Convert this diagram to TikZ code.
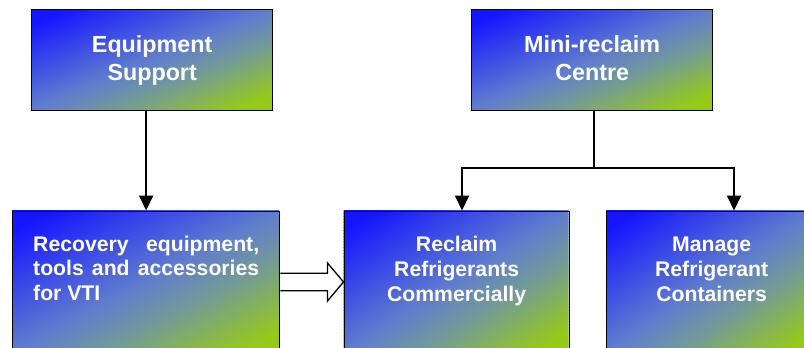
\documentclass[tikz,border=0pt]{standalone}
\usepackage{fontspec}
\setmainfont{Liberation Sans}
\usetikzlibrary{arrows.meta,calc}
\definecolor{gblue}{RGB}{20,22,255}
\definecolor{gmidA}{RGB}{95,125,205}
\definecolor{gmidB}{RGB}{115,155,150}
\definecolor{ggreen}{RGB}{150,202,25}
% diagonal gradient (top-left blue -> bottom-right green) drawn as thin strips
\newcommand\gradrect[4]{%
  \begin{scope}
  \clip (#1,#2) rectangle ++(#3,#4);
  \foreach \i in {0,...,99}{%
    \pgfmathsetmacro\grA{\i/50}%
    \pgfmathsetmacro\grB{\grA+0.026}%
    \pgfmathsetmacro\grS{\grA+0.01}%
    \ifdim\grS pt<0.15pt
      \colorlet{grcc}{gblue}%
    \else\ifdim\grS pt<1pt
      \pgfmathsetmacro\grP{(\grS-0.15)/0.85*100}\colorlet{grcc}{gmidA!\grP!gblue}%
    \else\ifdim\grS pt<1.34pt
      \pgfmathsetmacro\grP{(\grS-1)/0.34*100}\colorlet{grcc}{gmidB!\grP!gmidA}%
    \else\ifdim\grS pt<1.85pt
      \pgfmathsetmacro\grP{(\grS-1.34)/0.51*100}\colorlet{grcc}{ggreen!\grP!gmidB}%
    \else
      \colorlet{grcc}{ggreen}%
    \fi\fi\fi\fi
    \fill[grcc] ({#1+#3*(\grA+0.05)},{#2-0.05*#4}) -- ({#1+#3*(\grA-1.05)},{#2+1.05*#4})
      -- ({#1+#3*(\grB-1.05)},{#2+1.05*#4}) -- ({#1+#3*(\grB+0.05)},{#2-0.05*#4}) -- cycle;
  }
  \end{scope}}
\tikzset{
  box/.style={draw=black, line width=1.3pt, inner sep=0pt, anchor=north west},
  toptext/.style={text=white, font=\bfseries\fontsize{23.3}{28}\selectfont,
    align=center, inner sep=0pt, anchor=base},
  bottext/.style={text=white, font=\bfseries\fontsize{21.2}{24.6}\selectfont,
    align=center, inner sep=0pt, anchor=base},
  conn/.style={line width=2pt, draw=black},
  arr/.style={conn, -{Triangle[length=15pt,width=14pt]}},
  blockarr/.style={draw=black, line width=1.3pt, fill=white, line join=miter}
}
\begin{document}
\begin{tikzpicture}[x=1pt,y=-1pt]
\useasboundingbox (0,0) rectangle (804,348);
\clip (0,0) rectangle (804,348);
% gradient fills
\gradrect{31}{9}{241}{101}
\gradrect{471}{9}{241}{101}
\gradrect{12}{210.5}{267}{142}
\gradrect{343.5}{210.5}{225}{142}
\gradrect{606}{210.5}{210}{142}
% boxes
\node[box, minimum width=241pt, minimum height=101pt] (b1) at (31,9) {};
\node[box, minimum width=241pt, minimum height=101pt] (b2) at (471,9) {};
\node[box, minimum width=267pt, minimum height=142pt] (b3) at (12,210.5) {};
\node[box, minimum width=225pt, minimum height=142pt] (b4) at (343.5,210.5) {};
\node[box, minimum width=210pt, minimum height=142pt] (b5) at (606,210.5) {};
% texts
\node[toptext] (t1) at ($(b1.north)+(0,71)$) {Equipment\\Support};
\node[toptext] (t2) at ($(b2.north)+(0,71)$) {Mini-reclaim\\Centre};
\node[bottext, align=justify, text width=226pt, anchor=base west]
  (t3) at ($(b3.north west)+(21,40.5)$) {\tolerance=10000\relax\hyphenpenalty=10000\relax
  Recovery equipment, tools and accessories for VTI};
\node[bottext] (t4) at ($(b4.north)+(0,90.5)$) {Reclaim\\Refrigerants\\Commercially};
\node[bottext] (t5) at ($(b5.north)+(0,90.5)$) {Manage\\Refrigerant\\Containers};
% connectors
\draw[arr] (b1.south -| b3.north) -- (b3.north);
\coordinate (split) at ($(b2.south)+(1.5,57)$);
\coordinate (a4) at ($(b4.north west)+(118.5,0)$);
\coordinate (a5) at ($(b5.north west)+(128,0)$);
\draw[conn] (b2.south -| split) -- (split);
\draw[arr] (split) -| (a4);
\draw[arr] (split) -| (a5);
% block arrow
\coordinate (tail) at ($(b3.north east)+(0,71.5)$);
\coordinate (tip) at ($(b4.north west)+(0,71.5)$);
\draw[blockarr] ($(tail)+(0,-8.8)$) -- ($(tip)+(-16,-8.8)$) -- ($(tip)+(-16,-19)$)
  -- (tip) -- ($(tip)+(-16,19)$) -- ($(tip)+(-16,8.8)$) -- ($(tail)+(0,8.8)$);
\end{tikzpicture}
\end{document}
